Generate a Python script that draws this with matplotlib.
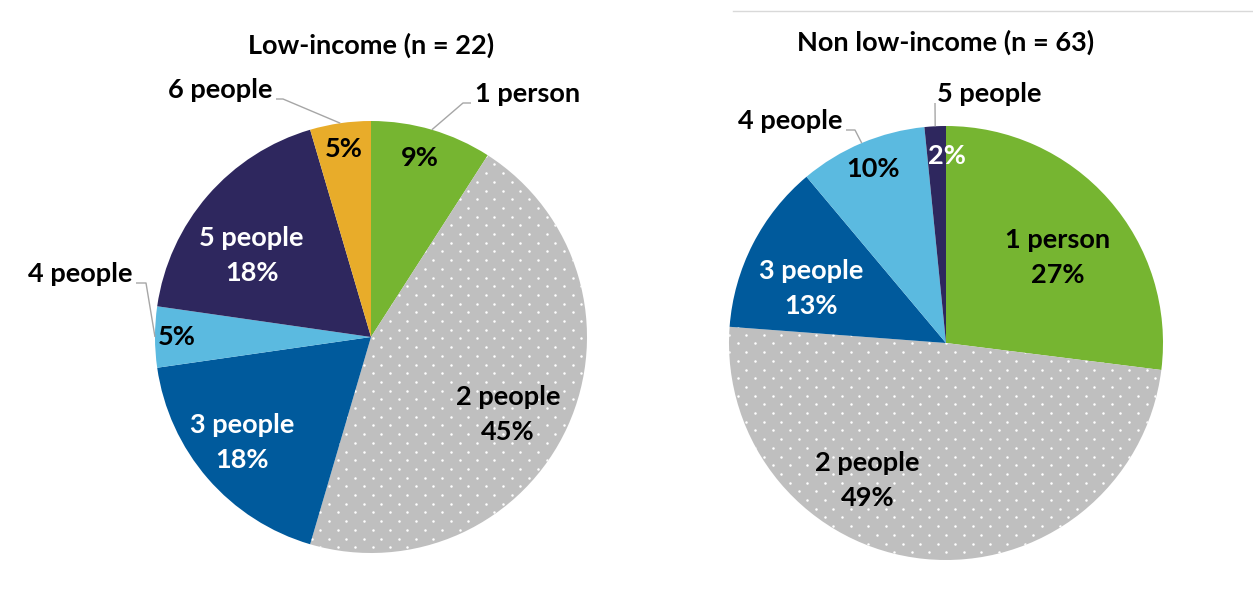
import numpy as np
import matplotlib.pyplot as plt

W, H = 1253, 608

plt.rcParams["font.family"] = ["Lato", "DejaVu Sans"]
plt.rcParams["font.weight"] = "bold"

# Low-income households (n = 22)
low_labels = ["1 person", "2 people", "3 people", "4 people", "5 people", "6 people"]
low_counts = [2, 10, 4, 1, 4, 1]
low_colors = ["#76B531", "#BFBFBF", "#005A9C", "#5BBAE0", "#2E275E", "#E8AC2A"]
low_text = ["black", "black", "white", "black", "white", "black"]

# Non low-income households (n = 63)
non_labels = ["1 person", "2 people", "3 people", "4 people", "5 people"]
non_counts = [17, 31, 8, 6, 1]
non_colors = ["#76B531", "#BFBFBF", "#005A9C", "#5BBAE0", "#2E275E"]
non_text = ["black", "black", "white", "black", "white"]

# label layout: (radius fraction, angle nudge in degrees clockwise)
low_inside = [(0.86, -1), (0.73, 5), (0.77, 1.5), (0.90, 0), (0.67, -6.5), (0.88, 0)]
non_inside = [(0.65, 4), (0.73, 24), (0.67, -5), (0.87, 0), (0.86, 3)]
# slices whose name sits outside: index -> (text x, baseline y, ha, elbow x)
low_outside = {0: (475, 102, "left", 463), 5: (272, 98, "right", 283), 3: (132, 282, "right", 146)}
non_outside = {3: (842, 129, "right", 855), 4: (937, 102, "left", 935)}

pies = [
    ("Low-income (n = 22)", 45, low_labels, low_counts, low_colors, low_text,
     low_inside, low_outside, (371, 337), 216),
    ("Non low-income (n = 63)", 42, non_labels, non_counts, non_colors, non_text,
     non_inside, non_outside, (946, 343), 217),
]

fig = plt.figure(figsize=(W / 100, H / 100), dpi=100)
ax = fig.add_axes([0, 0, 1, 1])

FS = 19.5


def dot_fill(ax, wedge, center, R, step=8.7):
    # staggered white dots, clipped to the wedge
    cx, cy = center
    px, py = [], []
    for k, y in enumerate(np.arange(cy - R, cy + R, step)):
        xs = np.arange(cx - R + (k % 2) * step, cx + R, 2 * step)
        px.extend(xs)
        py.extend([y] * len(xs))
    sc = ax.scatter(px, py, s=3.2, color="white", linewidths=0, zorder=wedge.get_zorder() + 0.1)
    sc.set_clip_path(wedge)


for title, title_y, labels, counts, colors, tcolors, inside, outside, center, R in pies:
    n = sum(counts)
    # y axis runs downwards, so startangle -90 is the top and counterclock goes clockwise on screen
    wedges, _ = ax.pie(counts, colors=colors, startangle=-90, counterclock=True,
                       center=center, radius=R, wedgeprops=dict(linewidth=0))
    # the "2 people" slice gets a white dotted fill
    dot_fill(ax, wedges[1], center, R)

    cx, cy = center
    for i, w in enumerate(wedges):
        pct = f"{round(100 * counts[i] / n)}%"
        frac, nudge = inside[i]
        mid = np.deg2rad((w.theta1 + w.theta2) / 2 + nudge)
        px, py = cx + frac * R * np.cos(mid), cy + frac * R * np.sin(mid)
        txt = pct if i in outside else f"{labels[i]}\n{pct}"
        ax.text(px, py, txt, ha="center", va="center", fontsize=FS,
                color=tcolors[i], linespacing=1.55, zorder=5)

        if i in outside:
            tx, ty, ha, ex = outside[i]
            ax.text(tx, ty, labels[i], ha=ha, va="baseline", fontsize=FS, color="black")
            m = np.deg2rad((w.theta1 + w.theta2) / 2)
            edge = (cx + R * np.cos(m), cy + R * np.sin(m))
            hx = tx - 4 if ha == "left" else tx + 4
            if abs(hx - ex) > 2:
                xs, ys = [edge[0], ex, hx], [edge[1], ty + 1, ty + 1]
            else:
                xs, ys = [edge[0], ex], [edge[1], ty + 1]
            ax.plot(xs, ys, color="#A6A6A6", lw=1, solid_capstyle="butt")

    ax.text(cx, title_y, title, ha="center", va="center", fontsize=FS, color="black")

# thin rule at the top right
ax.plot([733, W], [11, 11], color="#D9D9D9", lw=1)

ax.set_xlim(0, W)
ax.set_ylim(H, 0)
ax.set_aspect("equal")
ax.axis("off")

fig.savefig("out.png", dpi=100)
